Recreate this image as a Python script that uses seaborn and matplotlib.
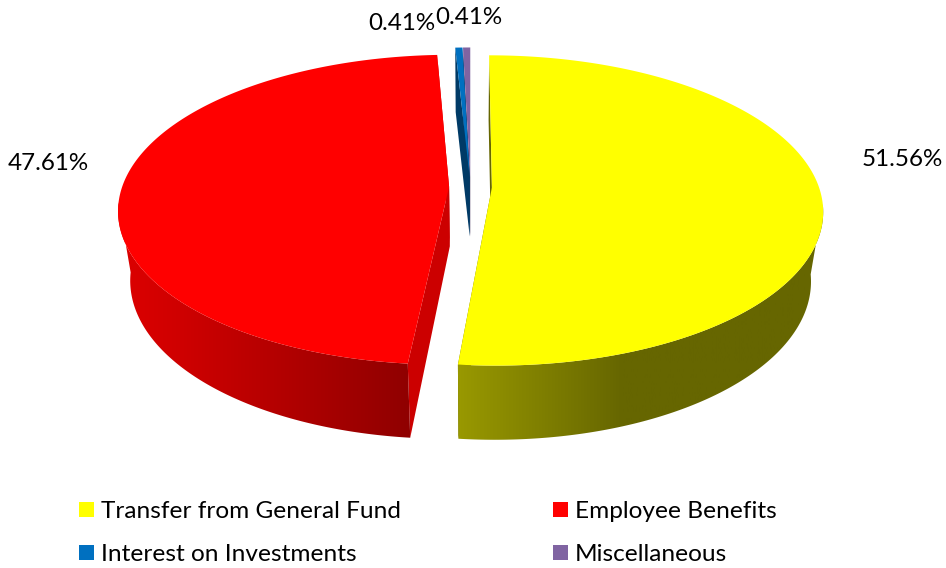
import numpy as np
import seaborn as sns
import matplotlib.pyplot as plt
from matplotlib.patches import Patch, Polygon
from matplotlib.colors import LinearSegmentedColormap

labels = ['Transfer from General Fund', 'Employee Benefits', 'Interest on Investments', 'Miscellaneous']
values = [51.56, 47.61, 0.41, 0.41]
colors = ['#FFFF00', '#FF0000', '#0070C0', '#8064A2']
pct_text = ['51.56%', '47.61%', '0.41%', '0.41%']

sns.set_theme(style='white')
plt.rcParams['font.family'] = ['Lato', 'DejaVu Sans']

fig = plt.figure(figsize=(9.46, 5.68), dpi=100)
ax = fig.add_axes([0, 0, 1, 1])
ax.set_xlim(0, 946)
ax.set_ylim(568, 0)
ax.axis('off')

# view of the tilted pie
x0, y0 = 470.5, 187
sx, sy, k = 327, 151.6, 0.148
depth, far = 72, 0.035
explode = 0.0655
apex_lift = 10


def project(px, pz, low=False):
    w = 1 - k * pz
    if low:
        return x0 + sx * px / (w + far), y0 + (sy * pz + depth) / (w + far)
    return x0 + sx * px / w, y0 + sy * pz / w


def wall(pts, stops, z):
    # horizontal shading clipped to the side of the slice
    cmap = LinearSegmentedColormap.from_list('w', stops)
    poly = Polygon(pts, closed=True, transform=ax.transData, fc='none', ec='none')
    ax.add_patch(poly)
    grad = np.linspace(0, 1, 256)[None, :]
    im = ax.imshow(grad, extent=[pts[:, 0].min() - 1, pts[:, 0].max() + 1, 568, 0],
                   cmap=cmap, aspect='auto', zorder=z)
    im.set_clip_path(poly)


wall_stops = [
    [(0, '#999900'), (0.45, '#666600'), (1, '#666600')],
    [(0, '#DD0000'), (0.2, '#D00000'), (1, '#8F0000')],
    [(0, '#003A66'), (1, '#003A66')],
    [(0, '#4D3C61'), (1, '#4D3C61')],
]
cut_color = ['#666600', '#CC0000', '#003A66', '#4D3C61']

# back slices first, so the front ones cover them
order = [3, 2, 1, 0]
starts = np.cumsum([0] + values[:-1]) / sum(values) * 2 * np.pi
ends = np.cumsum(values) / sum(values) * 2 * np.pi
z = 2
for i in order:
    mid = (starts[i] + ends[i]) / 2
    ex, ez = explode * np.sin(mid), -explode * np.cos(mid)
    t = np.linspace(starts[i], ends[i], 300)
    rx, rz = ex + np.sin(t), ez - np.cos(t)
    top = np.column_stack(project(rx, rz))
    low = np.column_stack(project(rx, rz, low=True))
    apex = np.array(project(ex, ez))
    apex_low = np.array(project(ex, ez, low=True)) - [0, apex_lift]
    # cut faces
    ax.add_patch(Polygon([apex, top[0], low[0], apex_low], fc=cut_color[i], ec='none', zorder=z))
    ax.add_patch(Polygon([apex, top[-1], low[-1], apex_low], fc=cut_color[i], ec='none', zorder=z))
    # outer wall, front part only
    front = -np.cos(t) > 0.1
    if front.any():
        wall(np.vstack([top[front], low[front][::-1]]), wall_stops[i], z + 1)
    # top face
    ax.add_patch(Polygon(np.vstack([apex, top]), fc=colors[i], ec='none', zorder=z + 2))
    z += 3

ax.set_xlim(0, 946)
ax.set_ylim(568, 0)

ax.text(902, 159, pct_text[0], ha='center', va='center', fontsize=17.4, color='black', zorder=30)
ax.text(48, 164, pct_text[1], ha='center', va='center', fontsize=17.4, color='black', zorder=30)
ax.text(402, 24, pct_text[2], ha='center', va='center', fontsize=17.4, color='black', zorder=30)
ax.text(469, 18, pct_text[3], ha='center', va='center', fontsize=17.4, color='black', zorder=30)

handles = [Patch(fc=c, ec='none') for c in colors]
# legend fills rows first in the reference: yellow, red / blue, purple
leg = ax.legend([handles[0], handles[2], handles[1], handles[3]],
                [labels[0], labels[2], labels[1], labels[3]],
                ncol=2, loc='upper left', bbox_to_anchor=(79 / 946, 1 - 501 / 568),
                frameon=False, fontsize=17.6, handlelength=0.62, handleheight=0.6,
                handletextpad=0.29, columnspacing=6.2, labelspacing=0.9, borderpad=0, borderaxespad=0,
                labelcolor='black')

fig.savefig('out.png', dpi=100, facecolor='white')
